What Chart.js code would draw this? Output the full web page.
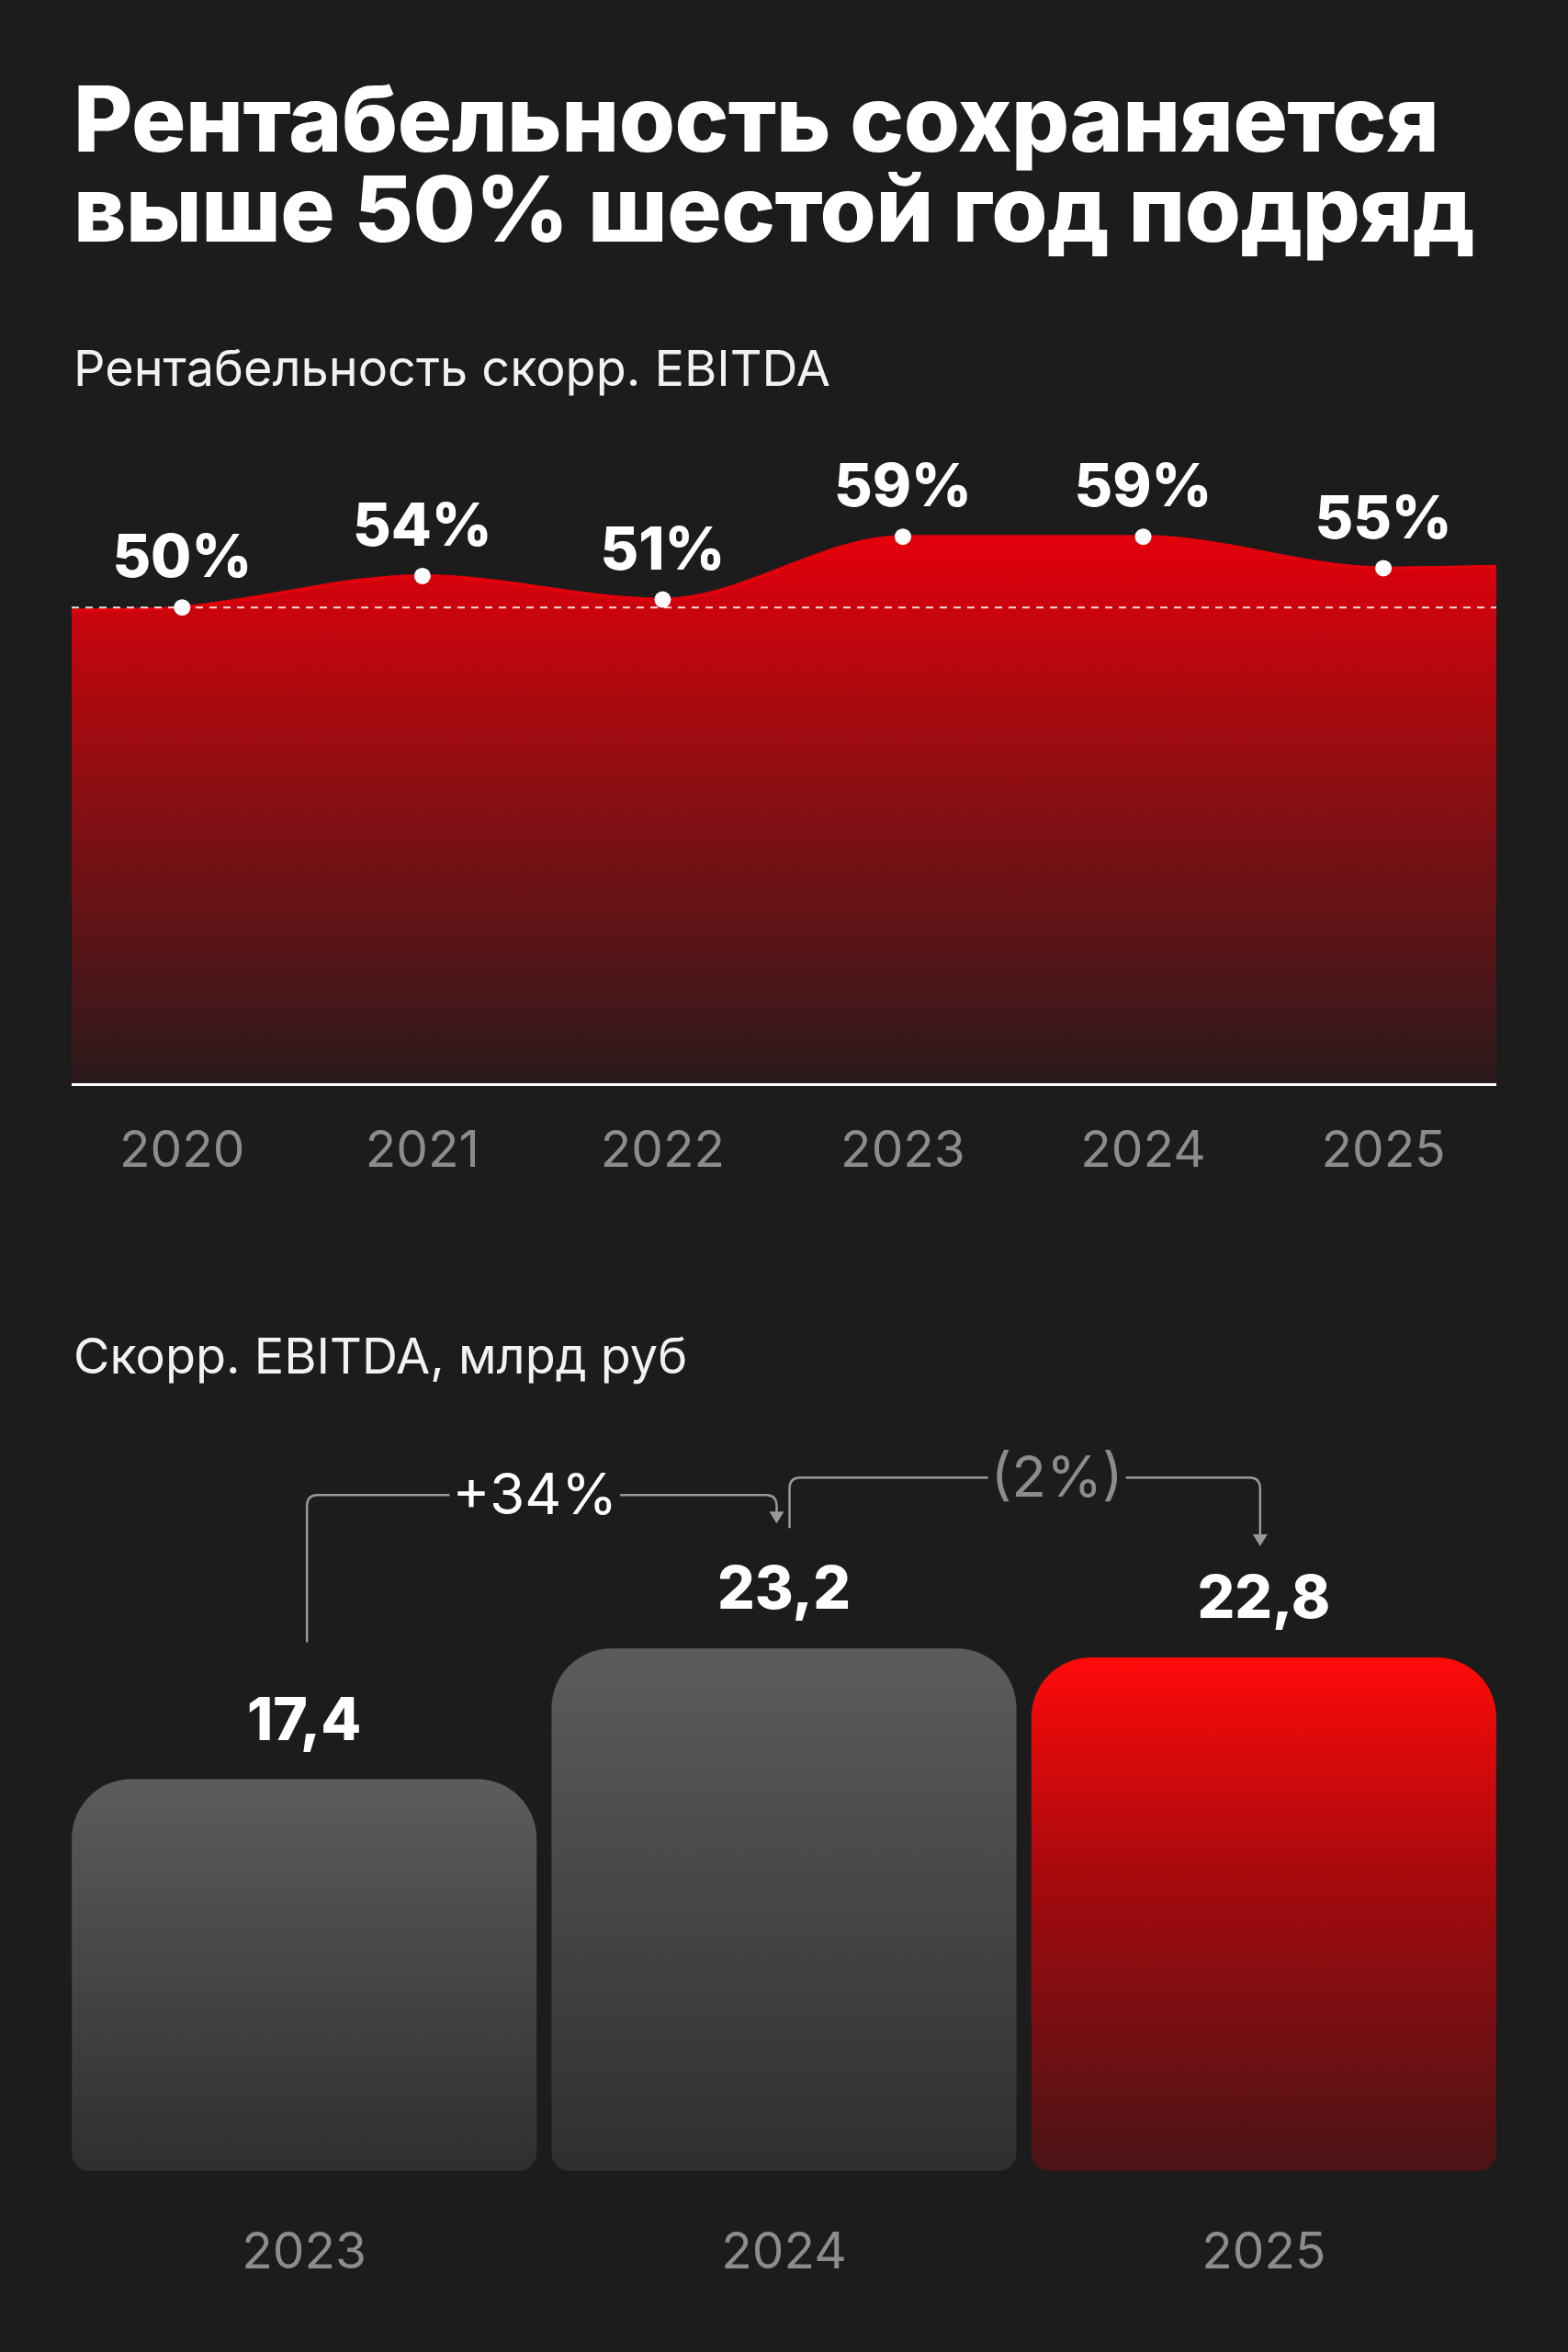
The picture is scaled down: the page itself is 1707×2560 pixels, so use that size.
<!DOCTYPE html>
<html><head><meta charset="utf-8">
<script src="https://cdn.jsdelivr.net/npm/chart.js@4"></script>
<style>
html,body{margin:0;padding:0;background:#1c1c1c;width:1707px;height:2560px;overflow:hidden;font-family:Inter,"Noto Sans",sans-serif;color:#fff}
.t{position:absolute;left:80px;top:80px;font-size:99px;font-weight:800;line-height:98px;letter-spacing:-0.5px;margin:0}
.s{position:absolute;left:80px;font-size:54px;font-weight:400;color:#f2f2f2}
.c{position:absolute}
</style></head><body>
<h1 class="t">Рентабельность сохраняется<br>выше 50% шестой год подряд</h1>
<div class="s" style="top:368px">Рентабельность скорр. EBITDA</div>
<div class="s" style="top:1443px">Скорр. EBITDA, млрд руб</div>
<div class="c" style="left:78px;width:1551px;top:450px;height:860px"><canvas id="c1"></canvas></div>
<div class="c" style="left:70px;width:1567px;top:1500px;height:993px"><canvas id="c2"></canvas></div>
<script>
const years = [2020, 2021, 2022, 2023, 2024, 2025];
const margin = [50, 54, 51, 59, 59, 55];
const marginLabels = ['50%', '54%', '51%', '59%', '59%', '55%'];
const edgeX = [2019.54, 2025.47];
const edgeMargin = [49.6, 55.2];
const threshold = 50;

const barYears = ['2023', '2024', '2025'];
const ebitda = [17.4, 23.2, 22.8];
const ebitdaLabels = ['17,4', '23,2', '22,8'];
const changeLabels = ['+34%', '(2%)'];

const areaPts = [{x: edgeX[0], y: edgeMargin[0]}]
  .concat(years.map((y, i) => ({x: y, y: margin[i]})))
  .concat([{x: edgeX[1], y: edgeMargin[1]}]);
const radii = areaPts.map((p, i) => (i === 0 || i === areaPts.length - 1) ? 0 : 9);

const labelPlugin1 = {
  id: 'lbl1',
  afterDatasetsDraw(chart) {
    const ctx = chart.ctx, xs = chart.scales.x, ys = chart.scales.y;
    ctx.save();
    ctx.fillStyle = '#fff';
    ctx.font = '800 64px Inter, sans-serif';
    ctx.textAlign = 'center';
    ctx.textBaseline = 'middle';
    years.forEach((y, i) => {
      ctx.fillText(marginLabels[i], xs.getPixelForValue(y), ys.getPixelForValue(margin[i]) - 52);
    });
    ctx.restore();
  }
};

new Chart(document.getElementById('c1'), {
  type: 'line',
  data: {
    datasets: [{
      data: areaPts,
      borderColor: '#e0000b',
      borderWidth: 4,
      tension: 0.4,
      cubicInterpolationMode: 'monotone',
      pointRadius: radii,
      pointBackgroundColor: '#fff',
      pointBorderWidth: 0,
      fill: 'start',
      backgroundColor(ctx) {
        const a = ctx.chart.chartArea;
        if (!a) return '#a00';
        const g = ctx.chart.ctx.createLinearGradient(0, ctx.chart.scales.y.getPixelForValue(59), 0, a.bottom);
        g.addColorStop(0, '#e3000b');
        g.addColorStop(0.45, '#8e0e12');
        g.addColorStop(1, '#2a1a1c');
        return g;
      },
      order: 2
    }, {
      data: [{x: edgeX[0], y: threshold}, {x: edgeX[1], y: threshold}],
      borderColor: 'rgba(255,255,255,0.85)',
      borderWidth: 2,
      borderDash: [8, 7],
      pointRadius: 0,
      fill: false,
      order: 1
    }]
  },
  options: {
    responsive: true, maintainAspectRatio: false, animation: false,
    layout: {padding: 0},
    plugins: {legend: {display: false}, tooltip: {enabled: false}},
    scales: {
      x: {
        type: 'linear', min: edgeX[0], max: edgeX[1],
        afterFit(s) { s.height = 130; },
        afterBuildTicks(s) { s.ticks = years.map(v => ({value: v})); },
        grid: {display: false, drawTicks: false},
        border: {display: true, color: '#ffffff', width: 3, z: 1},
        ticks: {color: '#8c8c8c', font: {size: 55, family: 'Inter'}, padding: 40, callback: v => String(v), autoSkip: false, maxRotation: 0}
      },
      y: {min: -10.7, max: 74.7, display: false}
    }
  },
  plugins: [labelPlugin1]
});

function bracket(ctx, x1, y1, yh, x2, y2, r) {
  ctx.beginPath();
  ctx.moveTo(x1, y1);
  ctx.lineTo(x1, yh + r);
  ctx.quadraticCurveTo(x1, yh, x1 + r, yh);
  ctx.lineTo(x2 - r, yh);
  ctx.quadraticCurveTo(x2, yh, x2, yh + r);
  ctx.lineTo(x2, y2 - 12);
  ctx.stroke();
  ctx.beginPath();
  ctx.moveTo(x2 - 8, y2 - 13);
  ctx.lineTo(x2 + 8, y2 - 13);
  ctx.lineTo(x2, y2);
  ctx.closePath();
  ctx.fill();
}

const labelPlugin2 = {
  id: 'lbl2',
  afterDatasetsDraw(chart) {
    const ctx = chart.ctx, xs = chart.scales.x, ys = chart.scales.y;
    ctx.save();
    ctx.fillStyle = '#fff';
    ctx.font = '800 64px Inter, sans-serif';
    ctx.textAlign = 'center';
    ctx.textBaseline = 'middle';
    const cx = ebitda.map((v, i) => xs.getPixelForValue(i));
    const top = ebitda.map(v => ys.getPixelForValue(v));
    ebitda.forEach((v, i) => ctx.fillText(ebitdaLabels[i], cx[i], top[i] - 62));
    ctx.strokeStyle = '#9a9a9a';
    ctx.fillStyle = '#9a9a9a';
    ctx.lineWidth = 2.5;
    const h1 = top[1] - 167, h2 = top[1] - 186;
    bracket(ctx, cx[0] + 3, top[0] - 149, h1, cx[1] - 8, top[1] - 136, 12);
    bracket(ctx, cx[1] + 6, top[1] - 131, h2, cx[2] - 4, top[2] - 121, 12);
    ctx.font = '400 62px Inter, sans-serif';
    const tx1 = (cx[0] + cx[1]) / 2 - 10, tx2 = (cx[1] + cx[2]) / 2 + 36;
    [[changeLabels[0], tx1, h1, '#ffffff'], [changeLabels[1], tx2, h2, '#8c8c8c']].forEach(([t, x, y, c]) => {
      const w = ctx.measureText(t).width + 6;
      ctx.fillStyle = '#1c1c1c';
      ctx.fillRect(x - w / 2, y - 30, w, 60);
      ctx.fillStyle = c;
      ctx.fillText(t, x, y + 2);
    });
    ctx.restore();
  }
};

function barGrad(ctx) {
  const a = ctx.chart.chartArea;
  if (!a) return '#555';
  const i = ctx.dataIndex;
  const top = ctx.chart.scales.y.getPixelForValue(ebitda[i]);
  const g = ctx.chart.ctx.createLinearGradient(0, top, 0, a.bottom);
  if (i === 2) {
    g.addColorStop(0, '#ff0a0a');
    g.addColorStop(0.45, '#a20a0e');
    g.addColorStop(1, '#4a1416');
  } else {
    g.addColorStop(0, '#5c5c5c');
    g.addColorStop(1, '#2f2f2f');
  }
  return g;
}

new Chart(document.getElementById('c2'), {
  type: 'bar',
  data: {
    labels: barYears,
    datasets: [{
      data: ebitda,
      backgroundColor: barGrad,
      borderRadius: {topLeft: 65, topRight: 65, bottomLeft: 20, bottomRight: 20},
      borderSkipped: false,
      categoryPercentage: 1,
      barPercentage: 0.969
    }]
  },
  options: {
    responsive: true, maintainAspectRatio: false, animation: false,
    layout: {padding: 0},
    plugins: {legend: {display: false}, tooltip: {enabled: false}},
    scales: {
      x: {
        afterFit(s) { s.height = 130; },
        grid: {display: false, drawTicks: false},
        border: {display: false},
        ticks: {color: '#8c8c8c', font: {size: 55, family: 'Inter'}, padding: 56}
      },
      y: {min: 0, max: 35.2, display: false}
    }
  },
  plugins: [labelPlugin2]
});
</script>
</body></html>
